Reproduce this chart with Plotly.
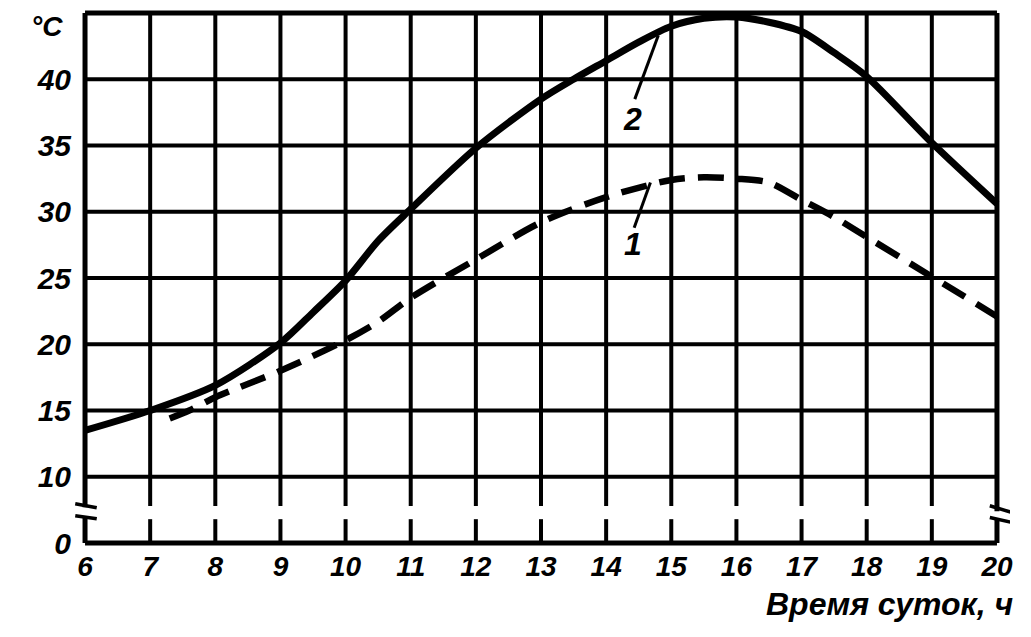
import plotly.graph_objects as go

# ---- data ----
hours = list(range(6, 21))
hour_labels = [str(h) for h in hours]
ytick_pos = [5, 10, 15, 20, 25, 30, 35, 40]
ytick_labels = ["0", "10", "15", "20", "25", "30", "35", "40"]
grid_rows = [10, 15, 20, 25, 30, 35, 40]

x_curve2 = [6, 7, 8, 9, 9.5, 10, 10.5, 11, 12, 13, 13.5, 14, 14.5, 15, 15.5, 16, 16.5, 17, 17.5, 18, 19, 20]
t_curve2 = [13.5, 15.0, 16.9, 20.1, 22.4, 24.8, 27.8, 30.2, 34.8, 38.5, 40.0, 41.4, 42.8, 44.0, 44.6, 44.7, 44.3, 43.6, 42.0, 40.2, 35.2, 30.6]

x_curve1 = [7.3, 7.6, 8, 9, 10, 10.5, 11, 12, 13, 14, 15, 15.5, 16, 16.5, 17, 17.5, 18, 19, 20]
t_curve1 = [14.4, 15.0, 16.0, 18.0, 20.3, 21.7, 23.5, 26.4, 29.2, 31.1, 32.4, 32.6, 32.5, 32.2, 30.9, 29.6, 28.1, 25.1, 22.1]

Y_TOP = 45
Y_BOTTOM = 5
GAP = (6.8, 7.8)          # axis-break gap in the grid
LEFT_GAP = (7.0, 7.7)
RIGHT_GAP = (6.8, 7.4)

FONT = "Liberation Sans"
INK = "black"

fig = go.Figure()

fig.add_trace(go.Scatter(x=x_curve2, y=t_curve2, mode="lines",
                         line=dict(color=INK, width=7, shape="spline", smoothing=0.8),
                         showlegend=False, hoverinfo="skip"))
fig.add_trace(go.Scatter(x=x_curve1, y=t_curve1, mode="lines",
                         line=dict(color=INK, width=6.5, shape="spline", smoothing=0.8, dash="26px,13px"),
                         showlegend=False, hoverinfo="skip"))

shapes = []
def seg(x0, y0, x1, y1, w):
    shapes.append(dict(type="line", xref="x", yref="y", x0=x0, y0=y0, x1=x1, y1=y1,
                       line=dict(color=INK, width=w), layer="below"))

# vertical grid lines with break gap
for h in hours[1:-1]:
    seg(h, Y_BOTTOM, h, GAP[0], 4)
    seg(h, GAP[1], h, Y_TOP, 4)
# borders
seg(hours[0], Y_BOTTOM, hours[0], LEFT_GAP[0], 5)
seg(hours[0], LEFT_GAP[1], hours[0], Y_TOP, 5)
seg(hours[-1], Y_BOTTOM, hours[-1], RIGHT_GAP[0], 5)
seg(hours[-1], RIGHT_GAP[1], hours[-1], Y_TOP, 5)
seg(hours[0], Y_TOP, hours[-1], Y_TOP, 5)
seg(hours[0], Y_BOTTOM, hours[-1], Y_BOTTOM, 5)
# horizontal grid
for r in grid_rows:
    seg(hours[0], r, hours[-1], r, 4)

# break marks
seg(5.85, 7.96, 6.18, 7.66, 3.5)
seg(5.85, 7.06, 6.18, 6.83, 3.5)
seg(19.89, 7.81, 20.23, 7.30, 3.5)
seg(19.89, 6.92, 20.23, 6.55, 3.5)

# leader lines for curve labels
seg(14.44, 38.5, 14.80, 43.3, 3)
seg(14.43, 28.8, 14.68, 32.2, 3)

fig.update_layout(shapes=shapes)

# page offset of the figure div (default body margin)
OFF = 8
W, H = 1031 - OFF, 637 - OFF
L, R, T, B = 72 - OFF, 21, 9 - OFF, 90
pw, ph = W - L - R, H - T - B

def px_to_paper(px, py):
    return (px - OFF - L) / pw, 1 - (py - OFF - T) / ph

lab_font = dict(family=FONT, size=32, color=INK, weight="bold", style="italic")
fig.add_annotation(x=14.40, y=37.0, xref="x", yref="y", text="2", showarrow=False, font=lab_font)
fig.add_annotation(x=14.41, y=27.6, xref="x", yref="y", text="1", showarrow=False, font=lab_font)

cx, cy = px_to_paper(47, 26)
fig.add_annotation(x=cx, y=cy, xref="paper", yref="paper", text="°C", showarrow=False,
                   xanchor="center", yanchor="middle",
                   font=dict(family=FONT, size=28, color=INK, weight="bold", style="italic"))
tx, ty = px_to_paper(1015, 604)
fig.add_annotation(x=tx, y=ty, xref="paper", yref="paper", text="Время суток, ч", showarrow=False,
                   xanchor="right", yanchor="middle",
                   font=dict(family=FONT, size=32, color=INK, weight="bold", style="italic"))

fig.update_xaxes(range=[5.8, 20.2], tickvals=hours, ticktext=hour_labels, showgrid=False,
                 zeroline=False, showline=False, ticks="",
                 tickfont=dict(family=FONT, size=28, color=INK, weight="bold", style="italic"))
fig.update_yaxes(range=[4.7, 45.3], tickvals=ytick_pos, ticktext=ytick_labels, showgrid=False,
                 zeroline=False, showline=False, ticks="",
                 tickfont=dict(family=FONT, size=30, color=INK, weight="bold", style="italic"))
fig.update_layout(width=W, height=H, margin=dict(l=L, r=R, t=T, b=B, autoexpand=False),
                  plot_bgcolor="white", paper_bgcolor="white")

fig.write_html("out.html")
